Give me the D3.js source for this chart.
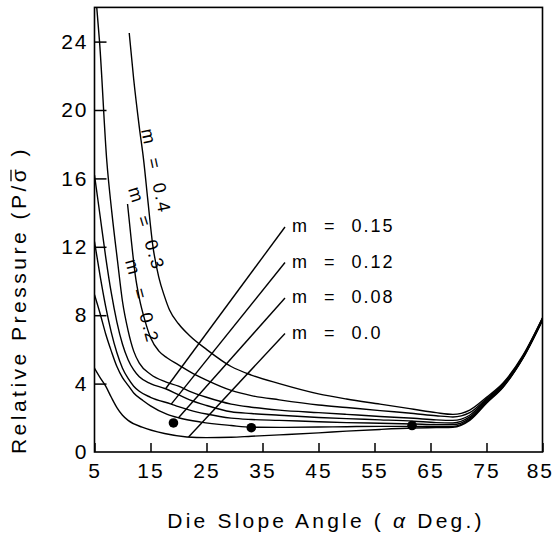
<!DOCTYPE html>
<html>
<head>
<meta charset="utf-8">
<script src="https://cdn.jsdelivr.net/npm/d3@7"></script>
<style>
  body { margin: 0; background: #fff; }
  svg { display: block; }
</style>
</head>
<body>
<script>
// tick labels
const xTicks = [5, 15, 25, 35, 45, 55, 65, 75, 85];
const yTicks = [0, 4, 8, 12, 16, 20, 24];

// friction factor of each curve
const frictionM = ["0.0", "0.08", "0.12", "0.15", "0.2", "0.3", "0.4"];

// [die angle (deg), P / sigma]
const curveM000 = [[5,4.9],[6,4.35],[7,3.85],[8,3.2],[9,2.6],[10,2.15],[11,1.85],[13.5,1.45],[17.5,1.08],[21.5,0.88],[25,0.84],[29.4,0.86],[33,0.92],[38,1.0],[45,1.12],[50,1.22],[56,1.32],[62,1.4],[66,1.43],[69,1.45],[72,1.85],[75,2.85],[78,3.8],[81.5,5.47],[85,7.7]];
const curveM008 = [[5,9.2],[6,8.1],[7,6.9],[8,5.9],[9,5.0],[10,4.35],[11,3.9],[12,3.45],[13.7,3.0],[15,2.7],[18,2.2],[20,2.0],[24,1.75],[29.4,1.55],[33,1.45],[38,1.44],[45,1.46],[50,1.48],[56,1.5],[62,1.5],[66,1.5],[69,1.5],[72,1.9],[75,2.9],[78,3.83],[81.5,5.5],[85,7.72]];
const curveM012 = [[5,12.3],[6,10.3],[7,8.5],[8,7.0],[9,5.8],[10,4.9],[11,4.3],[12,3.85],[13,3.55],[15,3.2],[18.7,2.8],[20,2.65],[22,2.45],[25,2.22],[29.4,1.98],[33,1.9],[38,1.85],[45,1.77],[50,1.72],[56,1.68],[62,1.64],[66,1.6],[69,1.6],[72,1.97],[75,2.95],[78,3.87],[81.5,5.52],[85,7.75]];
const curveM015 = [[5,16.2],[6,13.8],[7,11.4],[8,9.3],[9,7.6],[10,6.3],[11,5.4],[12,4.8],[13,4.4],[15,4.0],[17.7,3.7],[20,3.35],[22,3.05],[25,2.72],[29.4,2.35],[33,2.25],[38,2.15],[45,2.02],[50,1.95],[56,1.88],[62,1.8],[66,1.72],[69,1.7],[72,2.05],[75,3.0],[78,3.9],[81.5,5.55],[85,7.77]];
const curveM020 = [[5.4,26],[5.9,24],[7.2,17],[8.1,14],[9.1,11.2],[10,8.8],[11,7.1],[12,5.9],[13,5.2],[15,4.55],[17.7,4.1],[20,3.85],[22,3.55],[25,3.2],[29.4,2.8],[33,2.62],[38,2.45],[45,2.3],[50,2.2],[56,2.08],[62,1.97],[66,1.88],[69,1.85],[72,2.15],[75,3.05],[78,3.95],[81.5,5.57],[85,7.8]];
const curveM030 = [[10.9,14.5],[11.5,12.6],[12.3,10.3],[13,9.0],[14,7.7],[15,6.7],[16.5,5.9],[18,5.5],[20,5.1],[22,4.7],[25,4.2],[29.4,3.6],[33,3.3],[38,3.05],[45,2.75],[50,2.6],[56,2.42],[62,2.25],[66,2.12],[69,2.05],[72,2.3],[75,3.12],[78,4.0],[81.5,5.6],[85,7.82]];
const curveM040 = [[11.2,24.5],[12,21.8],[13,19.0],[13.8,17.0],[14.5,14.8],[15.4,12.1],[16.5,10.2],[17.5,9.1],[18.4,8.3],[20,7.5],[22,6.8],[25,6.0],[29.4,5.0],[33,4.5],[38,4.0],[45,3.4],[50,3.1],[56,2.8],[62,2.5],[66,2.3],[69,2.2],[72,2.45],[75,3.2],[78,4.05],[81.5,5.65],[85,7.85]];

// filled dots on the curves
const dotAlpha = [19.1, 33, 61.7];
const dotP = [1.7, 1.42, 1.55];

// labels with leader lines and the angle where each leader meets its curve
const leaderM = ["0.15", "0.12", "0.08", "0.0"];
const leaderAlpha = [17.7, 18.7, 20.0, 21.8];

const curves = [curveM000, curveM008, curveM012, curveM015, curveM020, curveM030, curveM040];

const W = 555, H = 540;
const font = "'Liberation Sans', Arial, sans-serif";

const svg = d3.select("body").append("svg")
    .attr("width", W)
    .attr("height", H)
    .attr("viewBox", [0, 0, W, H]);

const x = d3.scaleLinear().domain([5, 85]).range([94.5, 542.5]);
const y = d3.scaleLinear().domain([0, 26]).range([452, 7.4]);

svg.append("clipPath").attr("id", "plot")
  .append("rect")
    .attr("x", x(5)).attr("y", y(26))
    .attr("width", x(85) - x(5)).attr("height", y(0) - y(26));

// curves
const line = d3.line()
    .x(d => x(d[0]))
    .y(d => y(d[1]))
    .curve(d3.curveMonotoneX);

svg.append("g")
    .attr("clip-path", "url(#plot)")
    .attr("fill", "none")
    .attr("stroke", "#000")
    .attr("stroke-width", 1.4)
  .selectAll("path")
  .data(curves)
  .join("path")
    .attr("d", line);

// axes
const xAxis = svg.append("g")
    .attr("transform", `translate(0,${y(0)})`)
    .call(d3.axisBottom(x).tickValues(xTicks).tickSizeInner(-9).tickSizeOuter(0).tickPadding(11));
const yAxis = svg.append("g")
    .attr("transform", `translate(${x(5)},0)`)
    .call(d3.axisLeft(y).tickValues(yTicks).tickSizeInner(-12).tickSizeOuter(0).tickPadding(6));

[xAxis, yAxis].forEach(g => {
  g.select(".domain").remove();
  g.selectAll(".tick line").attr("stroke", "#000").attr("stroke-width", 1.5);
  g.selectAll(".tick text")
      .attr("fill", "#000")
      .style("font-family", font)
      .style("font-size", "21px")
      .style("letter-spacing", "2px");
});
yAxis.selectAll(".tick").filter(d => d === 0).select("line").remove();
// keep the last label inside the page
xAxis.selectAll(".tick").filter(d => d === 85).select("text")
    .attr("text-anchor", "end").attr("x", 11);

// frame
svg.append("rect")
    .attr("x", x(5)).attr("y", y(26))
    .attr("width", x(85) - x(5)).attr("height", y(0) - y(26))
    .attr("fill", "none")
    .attr("stroke", "#000")
    .attr("stroke-width", 1.6);

// dots
svg.append("g")
  .selectAll("circle")
  .data(dotAlpha)
  .join("circle")
    .attr("cx", d => x(d))
    .attr("cy", (d, i) => y(dotP[i]))
    .attr("r", 4.8)
    .attr("fill", "#000");

// leader labels
function valueAt(curve, a) {
  for (let i = 1; i < curve.length; i++) {
    if (a <= curve[i][0]) {
      const [a0, p0] = curve[i - 1], [a1, p1] = curve[i];
      return p0 + (p1 - p0) * (a - a0) / (a1 - a0);
    }
  }
  return curve[curve.length - 1][1];
}

const labelX = 292, labelY0 = 232, labelStep = 35.5;
leaderM.forEach((m, i) => {
  const curve = curves[frictionM.indexOf(m)];
  const a = leaderAlpha[i];
  const ly = labelY0 + i * labelStep;
  svg.append("line")
      .attr("x1", labelX - 7).attr("y1", ly - 5)
      .attr("x2", x(a)).attr("y2", y(valueAt(curve, a)))
      .attr("stroke", "#000")
      .attr("stroke-width", 1.4);
  svg.append("text")
      .attr("x", labelX).attr("y", ly)
      .style("font-family", font)
      .style("font-size", "18px")
      .style("letter-spacing", "2px")
      .style("word-spacing", "8px")
      .text(`m = ${m}`);
});

// labels written along the steep curves
const rotLabels = [
  {m: "0.4", px: 141, py: 130, rot: 78},
  {m: "0.3", px: 128, py: 189, rot: 73},
  {m: "0.2", px: 125, py: 261, rot: 75}
];
rotLabels.forEach(l => {
  svg.append("text")
      .attr("transform", `translate(${l.px},${l.py}) rotate(${l.rot})`)
      .style("font-family", font)
      .style("font-size", "18px")
      .style("letter-spacing", "2px")
      .style("word-spacing", "6px")
      .text(`m = ${l.m}`);
});

// axis titles
svg.append("text")
    .attr("x", 326).attr("y", 528)
    .attr("text-anchor", "middle")
    .style("font-family", font)
    .style("font-size", "21px")
    .style("letter-spacing", "3.2px")
    .call(t => {
      t.append("tspan").text("Die Slope Angle ( ");
      t.append("tspan").style("font-style", "italic").text("α");
      t.append("tspan").text(" Deg.)");
    });

const yTitlePre = "Relative Pressure (P/";
const yTitle = svg.append("g")
    .attr("transform", "translate(26,300) rotate(-90)");
const yTitleText = yTitle.append("text")
    .attr("text-anchor", "middle")
    .style("font-family", font)
    .style("font-size", "21px")
    .style("letter-spacing", "3.5px")
    .text(yTitlePre + "σ )");
// bar over sigma
const sig = yTitleText.node().getExtentOfChar(yTitlePre.length);
yTitle.append("line")
    .attr("x1", sig.x + 1).attr("x2", sig.x + sig.width - 4)
    .attr("y1", sig.y + 4).attr("y2", sig.y + 4)
    .attr("stroke", "#000")
    .attr("stroke-width", 1.3);
</script>
</body>
</html>
